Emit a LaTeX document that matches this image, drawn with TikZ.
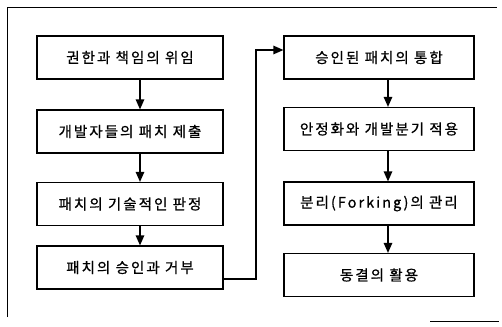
\documentclass[tikz,border=0pt]{standalone}
\usepackage{fontspec}
\newfontfamily\krfont[LetterSpace=14,FakeBold=0.8]{Noto Sans CJK KR}
\usetikzlibrary{arrows.meta}
\begin{document}
\begin{tikzpicture}[x=1pt,y=-1pt,
  stepbox/.style={draw=black,line width=1.2pt,minimum height=43pt,inner sep=0pt,font=\krfont\fontsize{14.5}{16}\selectfont},
  lbox/.style={stepbox,minimum width=186pt},
  rbox/.style={stepbox,minimum width=190pt},
  flow/.style={line width=1.2pt,-{Triangle[length=10pt,width=8.5pt]}},
  frame/.style={line width=0.9pt}]
\useasboundingbox (0,0) rectangle (502,326);
% frame
\coordinate (ftl) at (7,7);
\coordinate (ftr) at (497,7);
\coordinate (fbl) at (7,317);
\coordinate (fb1) at (430,321);
\coordinate (fb2) at (499,321);
\draw[frame] (fbl) -- (ftl) -- (ftr);
\draw[frame,line width=0.6pt] (fb1) -- (fb2);
% columns
\coordinate (colL) at (140,0);
\coordinate (colR) at (388,0);
% left column
\node[lbox] (a) at (130,57.5) {권한과 책임의 위임};
\node[lbox] (b) at (130,131.5) {개발자들의 패치 제출};
\node[lbox] (c) at (130,204) {패치의 기술적인 판정};
\node[lbox] (d) at (130,267.5) {패치의 승인과 거부};
% right column
\node[rbox] (e) at (379,57.5) {승인된 패치의 통합};
\node[rbox] (f) at (379,129) {안정화와 개발분기 적용};
\node[rbox] (g) at (379,203.5) {분리(Forking)의 관리};
\node[rbox] (h) at (379,275) {동결의 활용};
% arrows
\draw[flow] (a.south -| colL) -- (b.north -| colL);
\draw[flow] (b.south -| colL) -- (c.north -| colL);
\draw[flow] (c.south -| colL) -- (d.north -| colL);
\coordinate (d1) at (256,279);
\coordinate (d2) at (256,50);
\draw[flow] (d.east |- d1) -- (d1) -- (d2) -- (e.west |- d2);
\draw[flow] (e.south -| colR) -- (f.north -| colR);
\draw[flow] (f.south -| colR) -- (g.north -| colR);
\draw[flow] (g.south -| colR) -- (h.north -| colR);
\end{tikzpicture}
\end{document}
